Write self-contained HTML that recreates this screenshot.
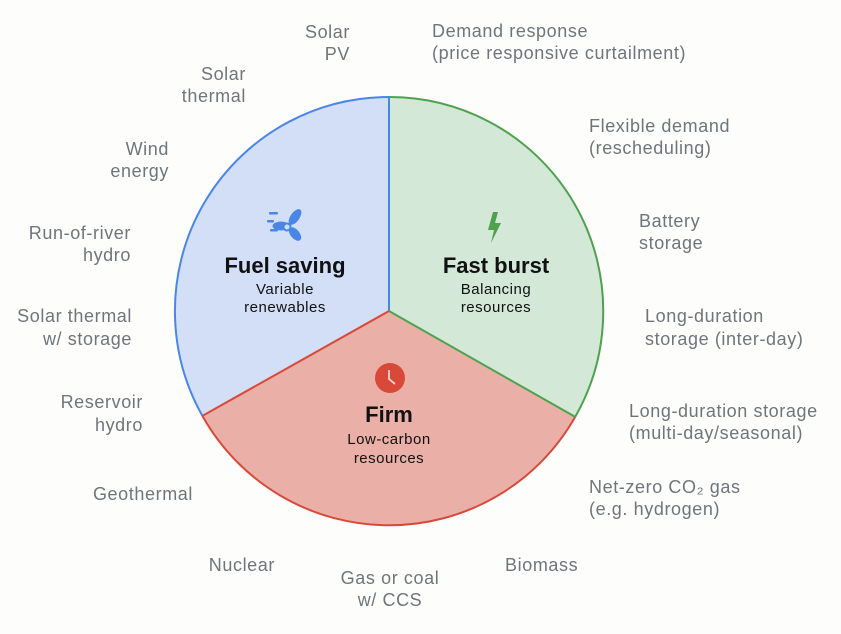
<!DOCTYPE html>
<html><head><meta charset="utf-8"><style>
html,body{margin:0;padding:0;background:#fff;}
svg{display:block;}
.l{font-family:"Liberation Sans",sans-serif;font-size:18px;letter-spacing:0.6px;fill:#70757a;}
.h{font-family:"Liberation Sans",sans-serif;font-size:22px;font-weight:bold;fill:#111;}
.s{font-family:"Liberation Sans",sans-serif;font-size:15px;letter-spacing:0.5px;fill:#111;}
</style></head><body>
<svg width="841" height="634" viewBox="0 0 841 634" xmlns="http://www.w3.org/2000/svg">
<rect width="841" height="634" fill="#fdfdfc"/>
<path d="M389 311 L389 97 A214 214 0 0 0 202.4 415.9 Z" fill="#d2dff6"/>
<path d="M389 311 L389 97 A214 214 0 0 1 575.2 416.9 Z" fill="#d3e8d6"/>
<path d="M389 311 L202.4 415.9 A214 214 0 0 0 575.2 416.9 Z" fill="#eab0a8"/>
<path d="M389 97 A214 214 0 0 0 202.4 415.9" fill="none" stroke="#4a86e8" stroke-width="2"/>
<path d="M389 97 A214 214 0 0 1 575.2 416.9" fill="none" stroke="#4ea24f" stroke-width="2"/>
<path d="M202.4 415.9 A214 214 0 0 0 575.2 416.9" fill="none" stroke="#d9493a" stroke-width="2"/>
<line x1="389" y1="97" x2="389" y2="311" stroke="#4a86e8" stroke-width="2"/>
<line x1="389" y1="311" x2="202.4" y2="415.9" stroke="#d9493a" stroke-width="2"/>
<line x1="389" y1="311" x2="575.2" y2="416.9" stroke="#4ea24f" stroke-width="2"/>
<g fill="#4a86e8">
<rect x="269" y="212" width="9" height="2.5" rx="1"/>
<rect x="267" y="220" width="7" height="2.5" rx="1"/>
<rect x="270" y="229" width="8" height="2.5" rx="1"/>
<ellipse cx="295" cy="217" rx="4.5" ry="9" transform="rotate(35 295 217)"/>
<ellipse cx="281" cy="226" rx="8.5" ry="4.5"/>
<ellipse cx="295" cy="234" rx="4.5" ry="8" transform="rotate(-40 295 234)"/>
<circle cx="287" cy="227" r="3.5" fill="#d2dff6" stroke="#4a86e8" stroke-width="2"/>
</g>
<path d="M493 212 L488 230 L494 230 L491 243 L501 223 L495 223 L498 212 Z" fill="#4ea24f"/>
<circle cx="390" cy="378" r="15" fill="#d9493a"/>
<path d="M389 370 L389 379 L395 384" fill="none" stroke="#f6d3cf" stroke-width="1.8"/>
<text class="h" x="285" y="273" text-anchor="middle">Fuel saving</text>
<text class="s" x="285" y="294" text-anchor="middle">Variable</text>
<text class="s" x="285" y="312" text-anchor="middle">renewables</text>
<text class="h" x="496" y="273" text-anchor="middle">Fast burst</text>
<text class="s" x="496" y="294" text-anchor="middle">Balancing</text>
<text class="s" x="496" y="312" text-anchor="middle">resources</text>
<text class="h" x="389" y="422" text-anchor="middle">Firm</text>
<text class="s" x="389" y="444" text-anchor="middle">Low-carbon</text>
<text class="s" x="389" y="463" text-anchor="middle">resources</text>
<g class="l" text-anchor="end">
<text x="350" y="38">Solar</text><text x="350" y="60">PV</text>
<text x="246" y="80">Solar</text><text x="246" y="102">thermal</text>
<text x="169" y="155">Wind</text><text x="169" y="177">energy</text>
<text x="131" y="239">Run-of-river</text><text x="131" y="261">hydro</text>
<text x="132" y="322">Solar thermal</text><text x="132" y="345">w/ storage</text>
<text x="143" y="408">Reservoir</text><text x="143" y="431">hydro</text>
<text x="193" y="500">Geothermal</text>
<text x="275" y="571">Nuclear</text>
</g>
<g class="l" text-anchor="middle">
<text x="390" y="584">Gas or coal</text><text x="390" y="606">w/ CCS</text>
</g>
<g class="l">
<text x="505" y="571">Biomass</text>
<text x="432" y="37">Demand response</text><text x="432" y="59">(price responsive curtailment)</text>
<text x="589" y="132">Flexible demand</text><text x="589" y="154">(rescheduling)</text>
<text x="639" y="227">Battery</text><text x="639" y="249">storage</text>
<text x="645" y="322">Long-duration</text><text x="645" y="345">storage (inter-day)</text>
<text x="629" y="417">Long-duration storage</text><text x="629" y="439">(multi-day/seasonal)</text>
<text x="589" y="493">Net-zero CO₂ gas</text><text x="589" y="515">(e.g. hydrogen)</text>
</g>
</svg>
</body></html>
